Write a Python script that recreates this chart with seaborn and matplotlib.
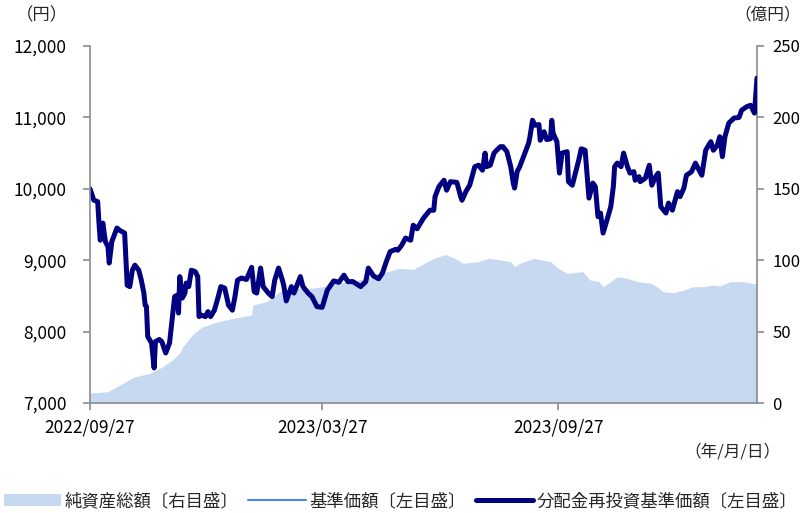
import pandas as pd
import seaborn as sns
import matplotlib
matplotlib.use('Agg')
import matplotlib.pyplot as plt
import matplotlib.dates as mdates
from matplotlib.ticker import FuncFormatter, MultipleLocator
from matplotlib.patches import Patch
from matplotlib.lines import Line2D

# data: days elapsed since launch (2022/09/27)
start_date = '2022-09-27'
end_day = 520

nav_days = [0, 3, 6, 7, 8, 10, 12, 14, 15, 17, 21, 23, 27, 29, 31, 33, 35, 38, 40, 42,
            43, 44, 45, 48, 50, 51, 54, 56, 59, 62, 64, 66, 68, 69, 70, 72, 74, 75, 77, 79,
            82, 84, 85, 87, 90, 92, 94, 97, 100, 102, 105, 108, 111, 113, 115, 118, 122, 125, 126, 128,
            130, 133, 135, 139, 142, 144, 147, 150, 151, 153, 157, 159, 164, 166, 170, 173, 177, 181, 185, 190,
            194, 198, 201, 205, 211, 215, 217, 221, 225, 228, 231, 234, 238, 240, 243, 246, 250, 252, 255, 256,
            260, 265, 268, 269, 272, 276, 278, 281, 286, 289, 290, 293, 296, 300, 303, 306, 308, 309, 312, 315,
            317, 320, 322, 325, 328, 330, 331, 333, 335, 338, 342, 343, 345, 347, 350, 351, 354, 356, 359, 360,
            361, 364, 366, 368, 372, 373, 376, 381, 383, 386, 389, 392, 394, 396, 398, 400, 403, 406, 408, 409,
            411, 414, 416, 419, 421, 424, 425, 428, 429, 433, 436, 438, 441, 443, 445, 449, 451, 454, 458, 460,
            463, 465, 469, 472, 474, 477, 480, 484, 486, 489, 491, 493, 495, 498, 502, 506, 508, 512, 515, 518,
            520]
nav_values = [10000, 9840, 9820, 9520, 9280, 9520, 9260, 9190, 8960, 9260, 9450, 9420, 9380, 8650, 8630, 8860, 8930, 8860, 8720, 8540,
              8370, 8350, 7930, 7840, 7490, 7860, 7890, 7860, 7700, 7840, 8160, 8490, 8510, 8260, 8770, 8470, 8540, 8680, 8630, 8860,
              8840, 8770, 8210, 8230, 8210, 8280, 8210, 8300, 8490, 8630, 8610, 8370, 8300, 8490, 8720, 8750, 8730, 8860, 8900, 8560,
              8540, 8890, 8630, 8540, 8490, 8720, 8890, 8720, 8650, 8430, 8630, 8540, 8770, 8630, 8540, 8490, 8350, 8340, 8580, 8710,
              8690, 8790, 8700, 8700, 8630, 8700, 8890, 8780, 8740, 8820, 8980, 9120, 9150, 9140, 9210, 9310, 9280, 9490, 9440, 9470,
              9590, 9700, 9700, 9890, 10030, 10120, 9980, 10100, 10090, 9890, 9840, 9960, 10050, 10310, 10330, 10260, 10500, 10310, 10330, 10500,
              10540, 10590, 10590, 10520, 10310, 10080, 10010, 10240, 10310, 10450, 10640, 10730, 10960, 10890, 10900, 10680, 10800, 10690, 10700, 10960,
              10780, 10660, 10220, 10500, 10520, 10100, 10050, 10400, 10560, 10540, 9870, 10080, 10030, 9610, 9660, 9380, 9560, 9750, 10030, 10310,
              10360, 10310, 10500, 10310, 10220, 10240, 10120, 10170, 10100, 10150, 10330, 10050, 10170, 10220, 9750, 9660, 9800, 9700, 9960, 9890,
              10010, 10190, 10240, 10360, 10290, 10190, 10540, 10660, 10540, 10610, 10730, 10450, 10730, 10920, 10990, 11000, 11100, 11150, 11170, 11060,
              11550]

aum_days = [0, 14, 20, 30, 35, 46, 56, 64, 70, 72, 80, 87, 100, 113, 126, 127, 138, 148, 158, 174,
            185, 190, 205, 215, 228, 241, 252, 255, 268, 277, 284, 291, 302, 311, 320, 328, 331, 335, 346, 359,
            365, 372, 384, 390, 397, 400, 411, 419, 427, 437, 442, 447, 455, 463, 470, 478, 486, 491, 499, 509,
            520]
aum_values = [7.0, 7.9, 11.0, 16.0, 18.4, 20.5, 25.0, 30.0, 35.0, 39.0, 48.0, 53.0, 57.0, 59.5, 61.6, 68.6, 71.0, 78.0, 80.3, 80.5,
              82.0, 83.8, 85.0, 87.5, 91.0, 94.3, 93.6, 95.0, 101.3, 104.0, 101.5, 97.8, 99.0, 101.3, 100.1, 99.0, 95.5, 97.8, 101.3, 99.0,
              94.3, 90.8, 92.0, 86.1, 85.0, 81.4, 88.4, 87.3, 85.0, 83.8, 81.4, 77.9, 77.2, 79.1, 81.4, 81.4, 82.6, 82.0, 85.0, 85.0,
              83.3]

date_ticks = ['2022-09-27', '2023-03-27', '2023-09-27']

start = pd.Timestamp(start_date)
nav = pd.DataFrame({'date': start + pd.to_timedelta(nav_days, unit='D'), 'nav': nav_values})
aum = pd.DataFrame({'date': start + pd.to_timedelta(aum_days, unit='D'), 'aum': aum_values})

sns.set_style('white')
plt.rcParams['font.family'] = ['Noto Sans CJK JP', 'DejaVu Sans']

area_color = '#C6D9F0'
navy = '#000080'
blue = '#4A86E8'
grey = '#8C8C8C'

fig = plt.figure(figsize=(8.01, 5.13), dpi=100)
ax = fig.add_axes([90 / 801, 1 - 403 / 513, 667 / 801, 357 / 513])
ax2 = ax.twinx()

ax2.fill_between(aum['date'], aum['aum'], 0, color=area_color, linewidth=0)
ax2.set_ylim(0, 250)
ax2.yaxis.set_major_locator(MultipleLocator(50))

sns.lineplot(data=nav, x='date', y='nav', ax=ax, color=blue, linewidth=1.2)
sns.lineplot(data=nav, x='date', y='nav', ax=ax, color=navy, linewidth=3.6,
             solid_joinstyle='round', solid_capstyle='round')

ax.set_zorder(ax2.get_zorder() + 1)
ax.patch.set_visible(False)

ax.set_xlim(start, start + pd.Timedelta(days=end_day))
ax.set_ylim(7000, 12000)
ax.yaxis.set_major_locator(MultipleLocator(1000))
ax.yaxis.set_major_formatter(FuncFormatter(lambda v, p: f'{int(v):,}'))
ax.set_xticks(pd.to_datetime(date_ticks))
ax.xaxis.set_major_formatter(mdates.DateFormatter('%Y/%m/%d'))
ax.set_xlabel('')
ax.set_ylabel('')
ax2.set_ylabel('')

for a in (ax, ax2):
    for s in a.spines.values():
        s.set_visible(False)
ax.spines['left'].set_visible(True)
ax.spines['bottom'].set_visible(True)
ax2.spines['right'].set_visible(True)
for s in (ax.spines['left'], ax.spines['bottom'], ax2.spines['right']):
    s.set_color(grey)
    s.set_linewidth(1.2)

ax.tick_params(axis='y', left=True, direction='out', length=5, width=1.2, color=grey,
               pad=12, labelsize=12.5, labelcolor='black')
ax.tick_params(axis='x', bottom=True, direction='out', length=5, width=1.2, color=grey,
               pad=6, labelsize=12.5, labelcolor='black')
ax2.tick_params(axis='y', right=True, direction='out', length=5, width=1.2, color=grey,
                pad=6, labelsize=12, labelcolor='black')

fig.text(42 / 801, 1 - 15 / 513, '（円）', ha='center', va='center', fontsize=12.5)
fig.text(768 / 801, 1 - 15 / 513, '（億円）', ha='center', va='center', fontsize=12)
fig.text(781 / 801, 1 - 452 / 513, '（年/月/日）', ha='right', va='center', fontsize=12)

handles = [Patch(facecolor=area_color, edgecolor='none'),
           Line2D([], [], color=blue, linewidth=1.5),
           Line2D([], [], color=navy, linewidth=3.6)]
labels = ['純資産総額〔右目盛〕', '基準価額〔左目盛〕', '分配金再投資基準価額〔左目盛〕']
fig.legend(handles, labels, loc='center', bbox_to_anchor=(0.5, 1 - 501 / 513), ncol=3,
           frameon=False, fontsize=12.5, handlelength=3.3, handletextpad=0.2,
           columnspacing=0.6, borderaxespad=0)

fig.savefig('out.png', dpi=100)
